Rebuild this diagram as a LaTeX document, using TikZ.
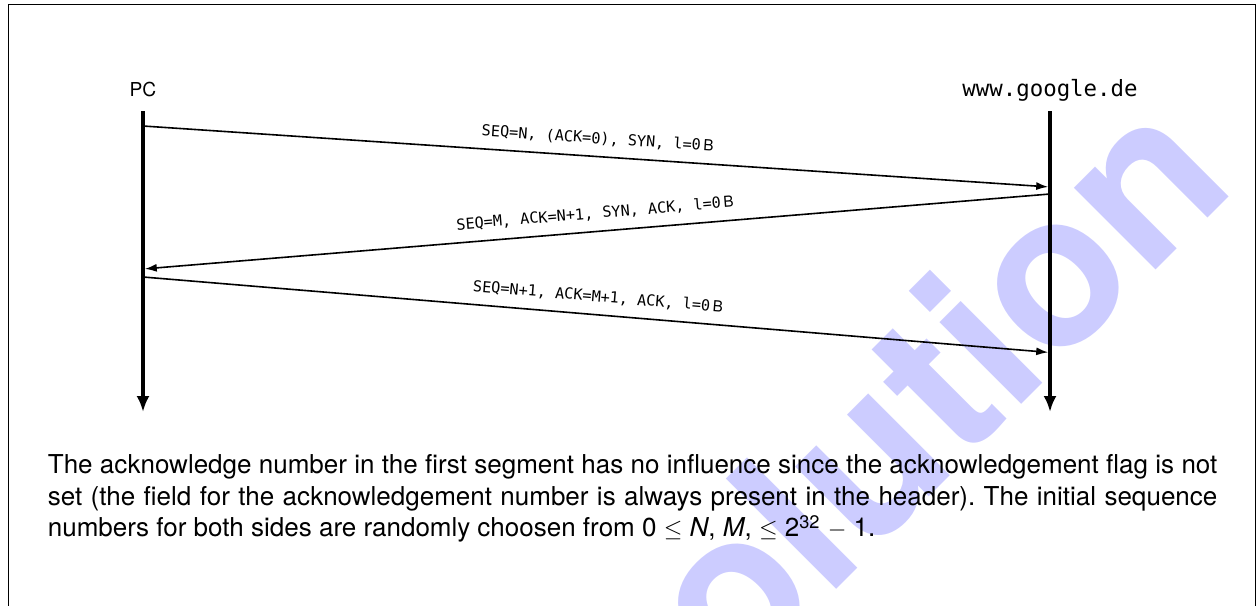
\documentclass[tikz,border=0pt]{standalone}
\usepackage{fontspec}
\setmainfont{TeX Gyre Heros}
\setsansfont{TeX Gyre Heros}
\setmonofont{DejaVu Sans Mono}
\usetikzlibrary{arrows.meta}
\definecolor{wmcol}{RGB}{204,204,255}
\begin{document}
\begin{tikzpicture}[x=0.5pt,y=-0.5pt,
  frame/.style={line width=0.5pt},
  lifeline/.style={line width=1.8pt,-{Latex[length=8pt,width=6.5pt]}},
  msg/.style={line width=0.8pt,-{Latex[length=6pt,width=4pt]},shorten >=0.9pt},
  msglabel/.style={font=\fontsize{7.6}{9}\ttfamily, sloped, anchor=base, yshift=6.5pt, inner sep=0pt, pos=0.5},
  party/.style={anchor=base, inner sep=0pt},
  watermark/.style={font=\bfseries\fontsize{107}{107}\selectfont, text=wmcol, rotate=45, anchor=base, inner sep=0pt}
]
\useasboundingbox (0,0) rectangle (1257,605);
% watermark
\node[watermark] (wm) at (936,490) {Solution};
% frame
\draw[frame] (8,606) -- (8,4) -- (1255.5,4) -- (1255.5,606);
% parties
\node[party, font=\fontsize{9.6}{11}\selectfont] (pc) at (143,96) {PC};
\node[party, font=\fontsize{11.2}{13}\ttfamily] (gg) at (1050,96.7) {www.google.de};
\coordinate (pctop) at (143,111);
\coordinate (pcbot) at (143,412);
\coordinate (ggtop) at (1050,111);
\coordinate (ggbot) at (1050,412);
\draw[lifeline] (pctop) -- (pcbot);
\draw[lifeline] (ggtop) -- (ggbot);
% message points
\coordinate (m1s) at (143,126);
\coordinate (m1e) at (1050,187);
\coordinate (m2s) at (1050,194);
\coordinate (m2e) at (143,269);
\coordinate (m3s) at (143,277);
\coordinate (m3e) at (1050,352.5);
\draw[msg] (m1s) -- node[msglabel] (l1) {SEQ=N, (ACK=0), SYN, l=0\,{\sffamily B}} (m1e);
\draw[msg] (m2s) -- node[msglabel] (l2) {SEQ=M, ACK=N+1, SYN, ACK, l=0\,{\sffamily B}} (m2e);
\draw[msg] (m3s) -- node[msglabel] (l3) {SEQ=N+1, ACK=M+1, ACK, l=0\,{\sffamily B}} (m3e);
% explanation
\node[anchor=base west, inner sep=0pt] (txt) at (47.5,473.3) {\parbox[t]{584.75pt}{\fontsize{13}{15.9}\selectfont\frenchspacing\emergencystretch=2em
The acknowledge number in the first segment has no influence since the acknowledgement flag is not\linebreak
set (the field for the acknowledgement number is always present in the header). The initial sequence\linebreak
numbers for both sides are randomly choosen from 0 $\leq$ \textit{N}, \textit{M}, $\leq$ 2\textsuperscript{32} $-$ 1.}};
\end{tikzpicture}
\end{document}
